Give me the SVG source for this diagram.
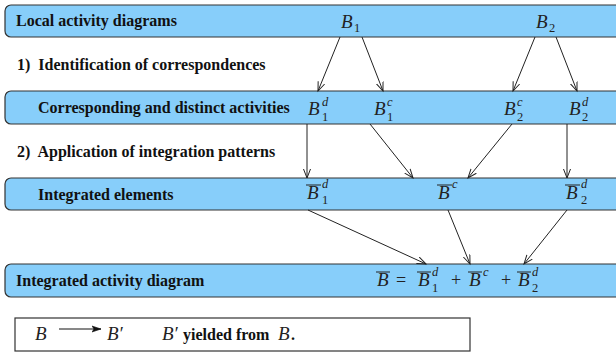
<svg xmlns="http://www.w3.org/2000/svg" width="616" height="353" viewBox="0 0 616 353">
<defs>
<marker id="ah" markerUnits="userSpaceOnUse" markerWidth="12" markerHeight="10" refX="9" refY="4" orient="auto" viewBox="0 0 12 10">
<path d="M0,0.5 L9,4 L0,7.5" fill="none" stroke="#222" stroke-width="1"/>
</marker>
<marker id="ah2" markerUnits="userSpaceOnUse" markerWidth="12" markerHeight="10" refX="9" refY="4" orient="auto" viewBox="0 0 12 10">
<path d="M0,1 L9,4 L0,7 L2,4 Z" fill="#111" stroke="#111" stroke-width="0.6"/>
</marker>
</defs>
<style>
.bar{fill:#87cefa;stroke:#333;stroke-width:1.2}
text{font-family:"Liberation Serif","Times New Roman",serif}
.lbl{font-weight:bold;font-size:16px;fill:#111}
.m{font-style:italic;font-size:19px;fill:#222}
.s{font-style:italic;font-size:12.5px;fill:#222}
.n{font-size:12.5px;fill:#222}
.op{font-size:18px;fill:#222}
.ov{stroke:#222;stroke-width:1}
.c{stroke:#222;stroke-width:1;fill:none;marker-end:url(#ah)}
</style>
<g id="bar1">
<rect class="bar" x="5" y="5" width="620" height="32" rx="6"/>
<text class="lbl" x="16" y="26">Local activity diagrams</text>
<text class="m" x="341" y="28">B</text><text class="n" x="354" y="32">1</text>
<text class="m" x="536" y="28">B</text><text class="n" x="549" y="32">2</text>
</g>
<g id="step1">
<text class="lbl" x="17" y="70" xml:space="preserve">1)  Identification of correspondences</text>
</g>
<g id="bar2">
<rect class="bar" x="5" y="91" width="620" height="33" rx="6"/>
<text class="lbl" x="38" y="113">Corresponding and distinct activities</text>
<text class="m" x="308" y="115">B</text><text class="s" x="322" y="106">d</text><text class="n" x="322" y="121">1</text>
<text class="m" x="374" y="115">B</text><text class="s" x="387" y="106">c</text><text class="n" x="387" y="121">1</text>
<text class="m" x="504" y="115">B</text><text class="s" x="517" y="106">c</text><text class="n" x="517" y="121">2</text>
<text class="m" x="569" y="115">B</text><text class="s" x="582" y="106">d</text><text class="n" x="582" y="121">2</text>
</g>
<g id="step2">
<text class="lbl" x="17" y="157" xml:space="preserve">2)  Application of integration patterns</text>
</g>
<g id="bar3">
<rect class="bar" x="5" y="178" width="620" height="32" rx="6"/>
<text class="lbl" x="38" y="200">Integrated elements</text>
<line class="ov" x1="306" y1="185" x2="321" y2="185"/>
<text class="m" x="307" y="199">B</text><text class="s" x="322" y="188">d</text><text class="n" x="322" y="204">1</text>
<line class="ov" x1="437" y1="185" x2="452" y2="185"/>
<text class="m" x="438" y="199">B</text><text class="s" x="452" y="188">c</text>
<line class="ov" x1="565" y1="185" x2="580" y2="185"/>
<text class="m" x="566" y="199">B</text><text class="s" x="581" y="188">d</text><text class="n" x="581" y="204">2</text>
</g>
<g id="bar4">
<rect class="bar" x="5" y="264" width="620" height="33" rx="6"/>
<text class="lbl" x="16" y="286">Integrated activity diagram</text>
<line class="ov" x1="376" y1="272" x2="390" y2="272"/>
<text class="m" x="377" y="286">B</text>
<text class="op" x="396" y="286">=</text>
<line class="ov" x1="417" y1="272" x2="431" y2="272"/>
<text class="m" x="418" y="286">B</text><text class="s" x="432" y="276">d</text><text class="n" x="432" y="292">1</text>
<text class="op" x="451" y="286">+</text>
<line class="ov" x1="468" y1="272" x2="482" y2="272"/>
<text class="m" x="469" y="286">B</text><text class="s" x="483" y="276">c</text>
<text class="op" x="501" y="286">+</text>
<line class="ov" x1="517" y1="272" x2="531" y2="272"/>
<text class="m" x="518" y="286">B</text><text class="s" x="532" y="276">d</text><text class="n" x="532" y="292">2</text>
</g>
<g id="connectors">
<line class="c" x1="340" y1="37" x2="318" y2="91"/>
<line class="c" x1="362" y1="37" x2="383" y2="91"/>
<line class="c" x1="535" y1="37" x2="513" y2="91"/>
<line class="c" x1="556" y1="37" x2="577" y2="91"/>
<line class="c" x1="307" y1="124" x2="307" y2="178"/>
<line class="c" x1="370" y1="124" x2="413" y2="178"/>
<line class="c" x1="512" y1="124" x2="468" y2="178"/>
<line class="c" x1="567" y1="124" x2="567" y2="178"/>
<line class="c" x1="308" y1="210" x2="426" y2="264"/>
<line class="c" x1="448" y1="210" x2="470" y2="264"/>
<line class="c" x1="567" y1="210" x2="524" y2="264"/>
</g>
<g id="legend">
<rect x="15" y="318" width="455" height="33" fill="#fff" stroke="#333" stroke-width="1.2"/>
<text class="m" x="35" y="340">B</text>
<line x1="59" y1="329" x2="101" y2="329" stroke="#111" stroke-width="1" marker-end="url(#ah2)"/>
<text class="m" x="107" y="340">B′</text>
<text class="m" x="162" y="340">B′</text>
<text class="lbl" x="183" y="340">yielded from </text>
<text class="m" x="278" y="340">B</text>
<text class="lbl" x="291" y="340">.</text>
</g>
</svg>
